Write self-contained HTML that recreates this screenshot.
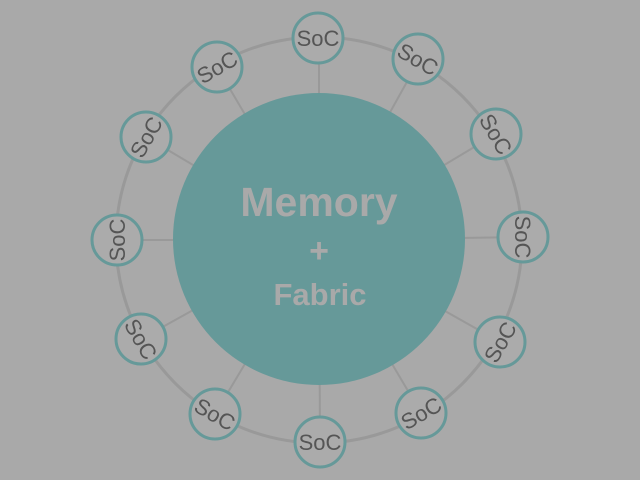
<!DOCTYPE html>
<html><head><style>html,body{margin:0;padding:0;background:#a9a9a9;}svg{display:block}</style></head>
<body>
<svg width="640" height="480" xmlns="http://www.w3.org/2000/svg" font-family="Liberation Sans, sans-serif">
<rect width="640" height="480" fill="#a9a9a9"/>
<g stroke="#999" stroke-width="2">
<line x1="319" y1="240" x2="319" y2="38"/>
<line x1="319" y1="240" x2="418" y2="62"/>
<line x1="319" y1="240" x2="496" y2="134"/>
<line x1="319" y1="240" x2="523" y2="237"/>
<line x1="319" y1="240" x2="500" y2="342"/>
<line x1="319" y1="240" x2="421" y2="413"/>
<line x1="319" y1="240" x2="320" y2="442"/>
<line x1="319" y1="240" x2="215" y2="414"/>
<line x1="319" y1="240" x2="141" y2="339"/>
<line x1="319" y1="240" x2="117" y2="240"/>
<line x1="319" y1="240" x2="146" y2="137"/>
<line x1="319" y1="240" x2="217" y2="67"/>
</g>
<circle cx="319" cy="240" r="203" fill="none" stroke="#999" stroke-width="3"/>
<circle cx="319" cy="239" r="146" fill="#669999"/>
<g fill="#a9a9a9" font-weight="bold" text-anchor="middle">
<text x="319" y="216" font-size="41">Memory</text>
<text x="319" y="262" font-size="34">+</text>
<text x="320" y="305" font-size="31">Fabric</text>
</g>
<g fill="#ababab" stroke="#669999" stroke-width="3">
<circle cx="318" cy="38" r="25"/>
<circle cx="418" cy="59" r="25"/>
<circle cx="496" cy="134" r="25"/>
<circle cx="523" cy="237" r="25"/>
<circle cx="500" cy="342" r="25"/>
<circle cx="421" cy="413" r="25"/>
<circle cx="320" cy="442" r="25"/>
<circle cx="215" cy="414" r="25"/>
<circle cx="141" cy="339" r="25"/>
<circle cx="117" cy="240" r="25"/>
<circle cx="146" cy="137" r="25"/>
<circle cx="217" cy="67" r="25"/>
</g>
<g fill="#555" font-size="22" text-anchor="middle">
<text transform="translate(318,38) rotate(0)" y="8">SoC</text>
<text transform="translate(418,59) rotate(30)" y="8">SoC</text>
<text transform="translate(496,134) rotate(60)" y="8">SoC</text>
<text transform="translate(523,237) rotate(90)" y="8">SoC</text>
<text transform="translate(500,342) rotate(-60)" y="8">SoC</text>
<text transform="translate(421,413) rotate(-30)" y="8">SoC</text>
<text transform="translate(320,442) rotate(0)" y="8">SoC</text>
<text transform="translate(215,414) rotate(30)" y="8">SoC</text>
<text transform="translate(141,339) rotate(60)" y="8">SoC</text>
<text transform="translate(117,240) rotate(-90)" y="8">SoC</text>
<text transform="translate(146,137) rotate(-60)" y="8">SoC</text>
<text transform="translate(217,67) rotate(-30)" y="8">SoC</text>
</g>
</svg>
</body></html>
